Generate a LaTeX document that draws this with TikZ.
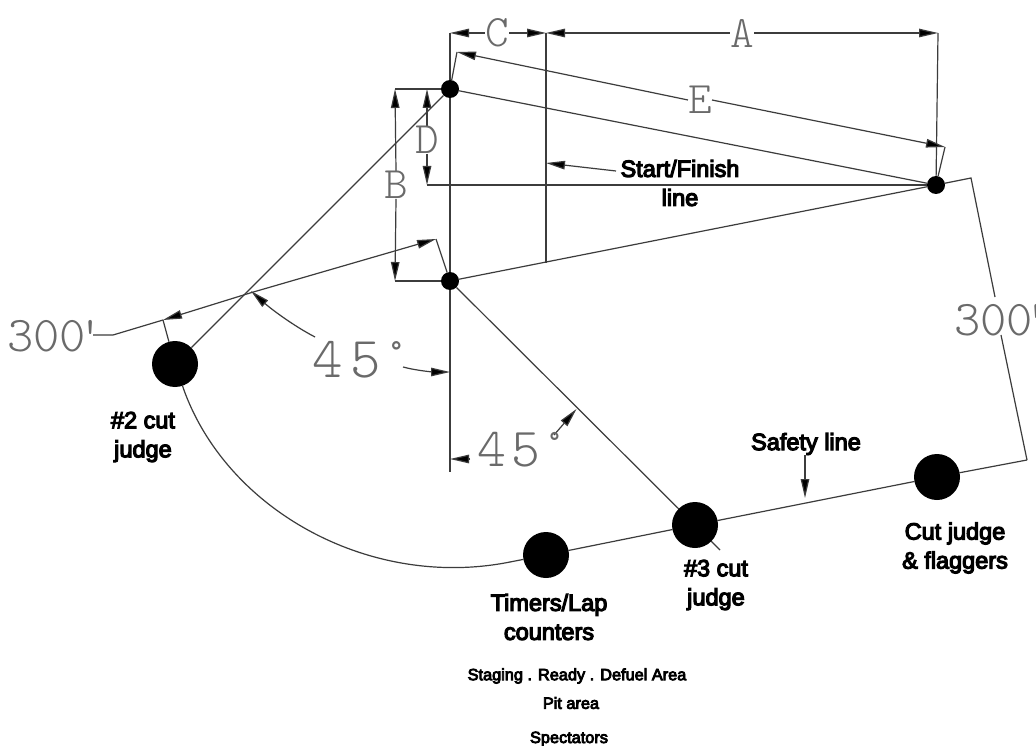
\documentclass[tikz,border=0pt]{standalone}
\usepackage{fontspec}
\usetikzlibrary{arrows.meta,backgrounds}
\setmainfont{Liberation Sans}
\newfontfamily\labfont[FakeBold=5]{Liberation Sans}
\newfontfamily\cadfont{Latin Modern Mono Light}
\definecolor{ln}{HTML}{3c3c3c}
\definecolor{cadc}{HTML}{6a6a6a}
\tikzset{
  thin line/.style={draw=ln,line width=1.2pt},
  dim/.style={thin line,-{Triangle[length=19pt,width=8.5pt,fill=black]}},
  smalldot/.style={circle,fill=black,inner sep=0pt,minimum size=18pt},
  bigdot/.style={circle,fill=black,inner sep=0pt,minimum size=46pt},
  lab/.style={inner sep=0pt,align=center,text=black,font=\labfont\fontsize{23.5}{29}\selectfont},
  smalllab/.style={inner sep=0pt,align=center,text=black,font=\labfont\fontsize{16.3}{18}\selectfont},
  cad/.style={inner sep=0pt,text=cadc,font=\cadfont\fontsize{#1}{#1}\selectfont},
}
\begin{document}
\begin{tikzpicture}[x=1pt,y=-1pt]
\useasboundingbox (0,0) rectangle (1036,746);
% positions
\node[smalldot] (p1) at (450,89) {};
\node[smalldot] (p2) at (450,281) {};
\node[smalldot] (p3) at (936,185) {};
\node[bigdot] (j2) at (175,364) {};
\node[bigdot] (j3) at (695,525) {};
\node[bigdot] (tm) at (546,555) {};
\node[bigdot] (cj) at (937,477) {};
\coordinate (tl) at (450,33);
\coordinate (tm1) at (546,33);
\coordinate (tr) at (938,33);
\coordinate (vb) at (450,472);
\coordinate (sf) at (546,263);
% labels
\node[cad=45] (C) at (497,33) {C};
\node[cad=45] (A) at (742,33) {A};
\node[cad=45] (E) at (700,100) {E};
\node[cad=45] (D) at (427,140) {D};
\node[cad=45] (B) at (396,185) {B};
\node[cad=50,anchor=base west] (L300a) at (7,351) {300\kern-8pt'};
\node[cad=50,anchor=base west] (L300b) at (954,335) {300\kern-9pt'\kern-15pt};
\node[cad=58,anchor=base west] (D45a) at (312,377) {4\kern8pt5\kern0pt°};
\node[cad=55,anchor=base west] (D45b) at (477,466) {4\kern5pt5\kern1pt°};
\node[lab] (sfl) at (680,183) {Start/Finish\\line};
\node[lab] (sl) at (806,444) {Safety line};
\node[lab] (l2) at (143,437) {\#2 cut\\judge};
\node[lab] (l3) at (716,585) {\#3 cut\\judge};
\node[lab] (lt) at (549,617) {Timers/Lap\\counters};
\node[lab] (lc) at (955,548) {Cut judge\\\& flaggers};
\node[smalllab] (s1) at (577,676) {Staging . Ready . Defuel Area};
\node[smalllab] (s2) at (571,703) {Pit area};
\node[smalllab] (s3) at (569,739) {Spectators};
\coordinate (e1) at (457,52);
\coordinate (e2) at (945,147);
\coordinate (d0) at (427,89);
\coordinate (d1) at (427,185);
\coordinate (b0) at (395,89);
\coordinate (b1) at (395,281);
\coordinate (a1) at (436,239);
\coordinate (a2) at (163,320);
\coordinate (a3) at (113,335);
\coordinate (a4) at (93,335);
\coordinate (x0) at (250,293);
\coordinate (x1) at (251,291);
\coordinate (x2) at (315,337);
\coordinate (x3) at (403,367);
\coordinate (x4) at (450,372);
\coordinate (j3t) at (720,550);
\coordinate (x5) at (554,435);
\coordinate (x6) at (576.5,409);
\coordinate (x7) at (470,459);
\coordinate (x8) at (450,459);
\coordinate (s0) at (510,562);
\coordinate (s4) at (1027,460);
\coordinate (r1) at (971,178);
\coordinate (r2) at (995,297);
\coordinate (r3) at (1001,335);
\coordinate (st) at (546,163);
\coordinate (sf0) at (616,171);
\coordinate (sa0) at (805,455);
\coordinate (sa1) at (805,498);
\begin{pgfonlayer}{background}
\fill[white] (0,0) rectangle (1036,746);
% extension lines
\draw[thin line] (tl) -- (vb);
\draw[thin line] (tm1) -- (sf);
\draw[thin line] (tr) -- (p3);
% dimension C and A
\draw[dim] (C.west) -- (tl);
\draw[dim] (C.east) -- (tm1);
\draw[dim] (A.west) -- (tm1);
\draw[dim] (A.east) -- (tr);
% dimension E
\draw[thin line] (p1) -- (e1);
\draw[thin line] (p3) -- (e2);
\draw[dim] (E.west) -- (e1);
\draw[dim] (E.east) -- (e2);
% main triangle
\draw[thin line] (p1) -- (p3);
\draw[thin line] (p2) -- (p3);
% dimensions D and B
\draw[thin line] (b0) -- (p1);
\draw[thin line] (b1) -- (p2);
\draw[thin line] (d1) -- (p3);
\draw[dim] (D.north) -- (d0);
\draw[dim] (D.south) -- (d1);
\draw[dim] (B.north) -- (b0);
\draw[dim] (B.south) -- (b1);
% 300 ft left dimension
\draw[thin line] (p2) -- (a1);
\draw[thin line] (j2) -- (a2);
\draw[thin line] (a4) -- (a3) -- (a2);
\draw[dim] (x0) -- (a2);
\draw[dim] (x0) -- (a1);
% 45 degree lines
\draw[thin line] (j2) -- (p1);
\draw[dim] (x2) .. controls (292,325) and (270,308) .. (x1);
\draw[dim] (x3) .. controls (418,371) and (435,372) .. (x4);
\draw[thin line] (p2) -- (j3t);
\draw[dim] (x5) -- (x6);
\draw[dim] (x7) -- (x8);
% safety line
\draw[thin line] (j2) .. controls (225,510) and (370,590) .. (s0);
\draw[thin line] (s0) -- (tm) -- (j3) -- (cj) -- (s4);
\draw[thin line] (p3) -- (r1) -- (r2);
\draw[thin line] (r3) -- (s4);
% leaders
\draw[dim] (sf0) -- (st);
\draw[dim] (sa0) -- (sa1);
\end{pgfonlayer}
\end{tikzpicture}
\end{document}
